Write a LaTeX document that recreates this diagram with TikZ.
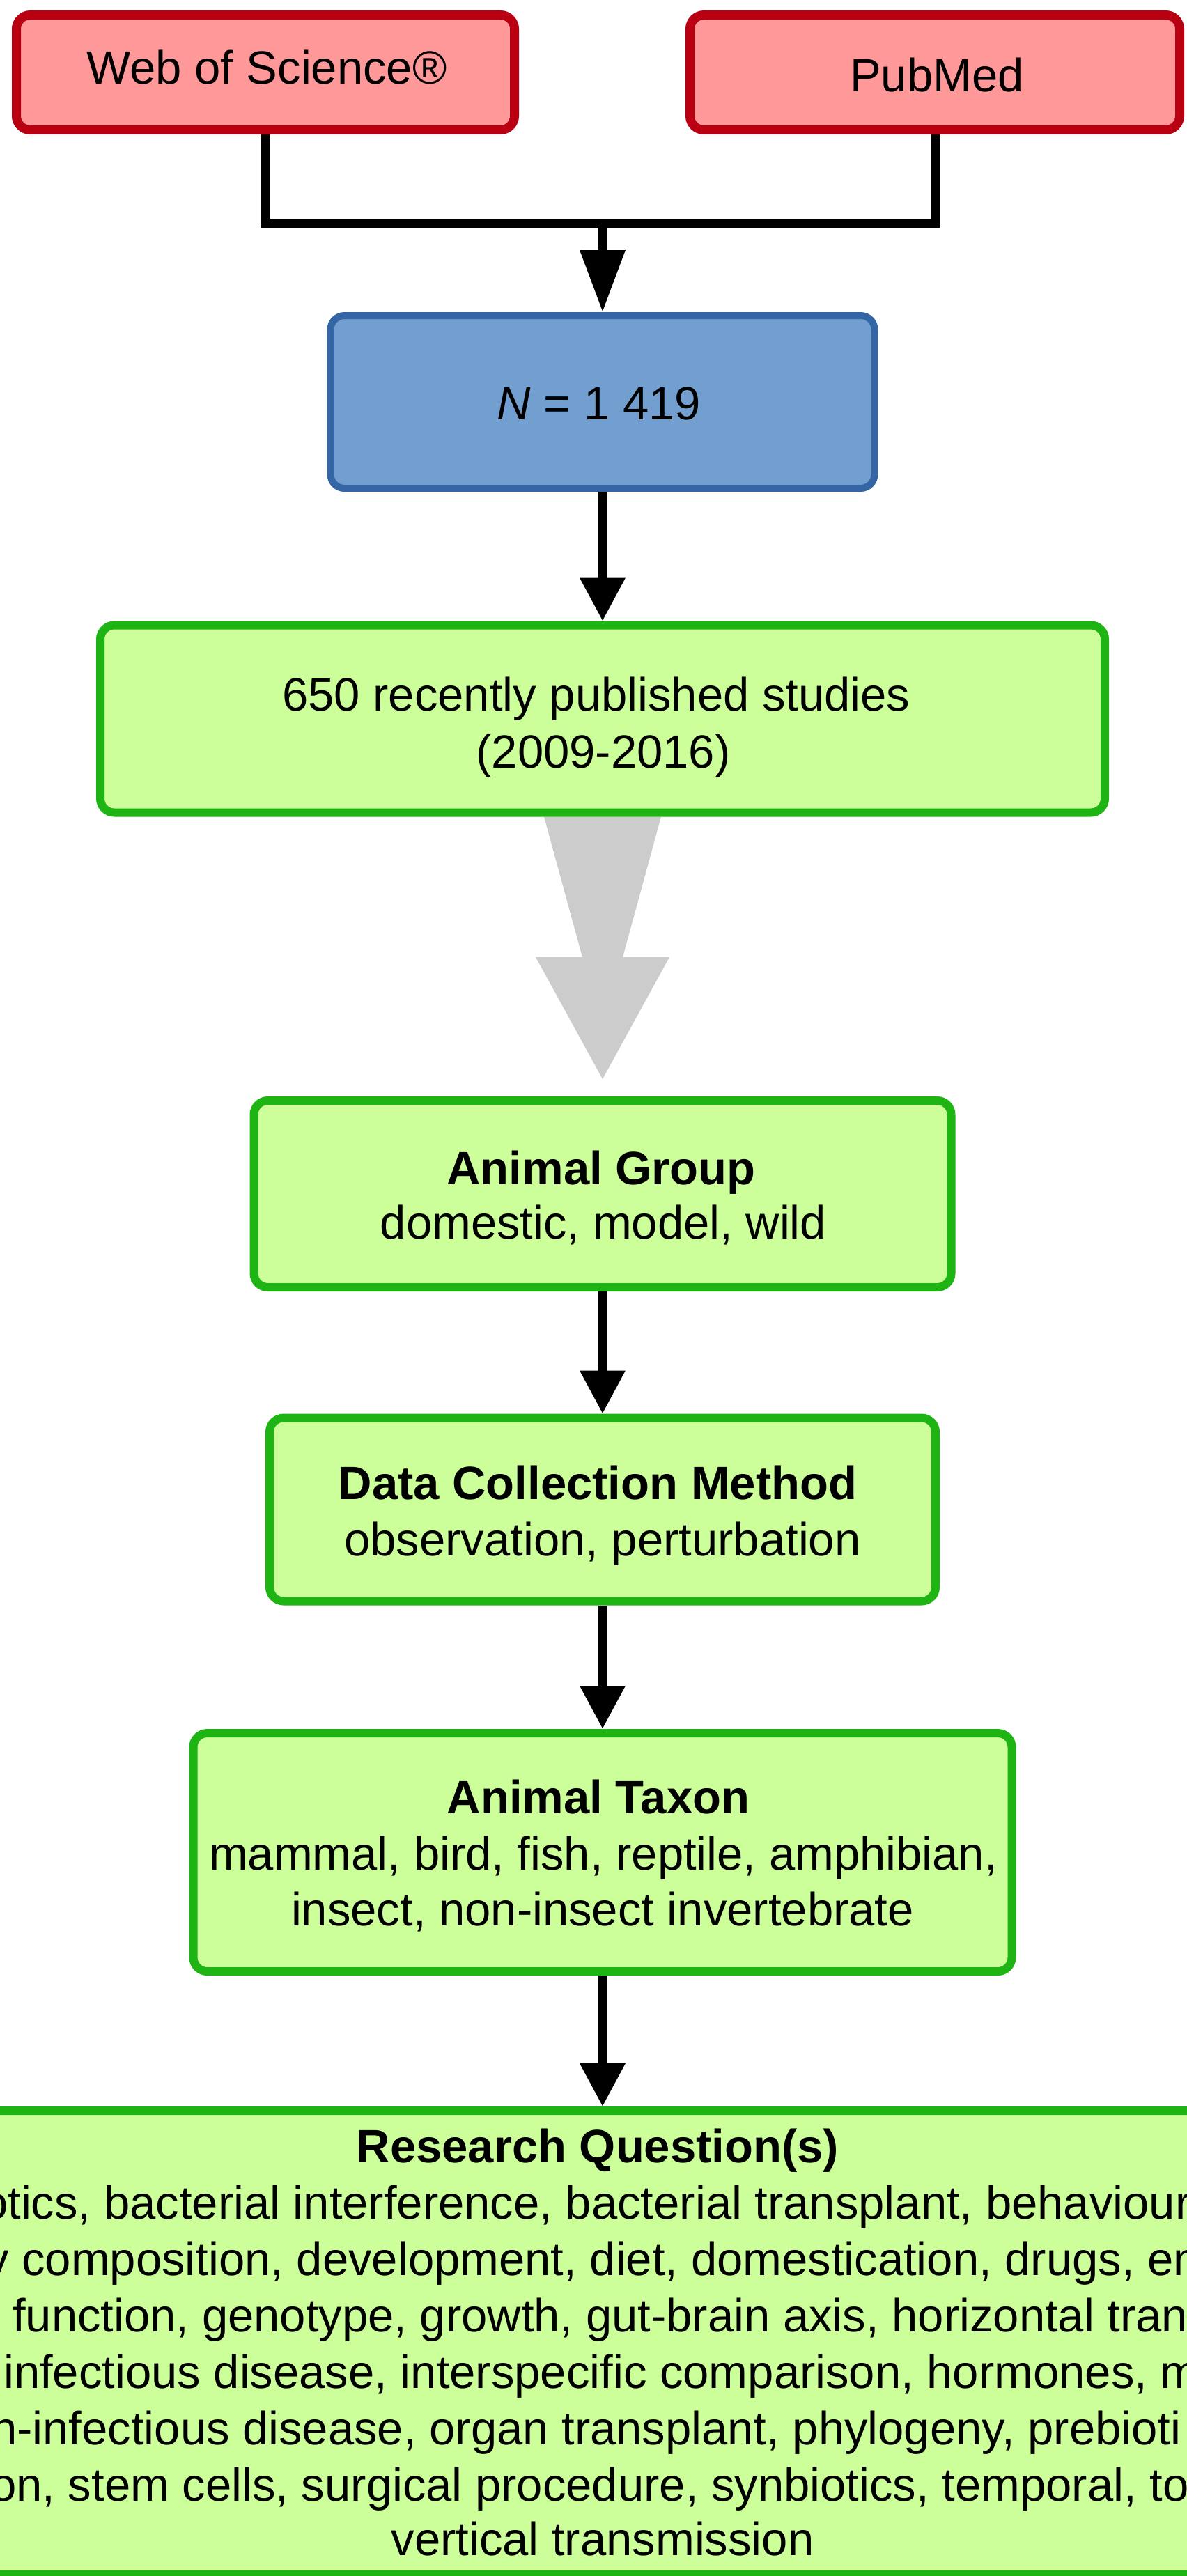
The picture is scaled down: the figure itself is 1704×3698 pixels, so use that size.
\documentclass[tikz,border=0pt]{standalone}
\usepackage{fontspec}
\setmainfont{Liberation Sans}
\usetikzlibrary{arrows.meta,calc,backgrounds}
\definecolor{redfill}{HTML}{FF9999}
\definecolor{redline}{HTML}{B80012}
\definecolor{bluefill}{HTML}{729FCF}
\definecolor{blueline}{HTML}{3465A4}
\definecolor{greenfill}{HTML}{CCFF99}
\definecolor{greenline}{RGB}{30,180,20}
\definecolor{arrowgray}{HTML}{CCCCCC}
\begin{document}
\begin{tikzpicture}[x=1pt,y=-1pt,
  box/.style={rectangle, rounded corners=20pt, inner sep=0pt},
  redbox/.style={box, draw=redline, fill=redfill, line width=13pt},
  bluebox/.style={box, draw=blueline, fill=bluefill, line width=10pt},
  greenbox/.style={box, draw=greenline, fill=greenfill, line width=12pt},
  txt/.style={anchor=base, inner sep=0pt, font=\fontsize{67}{81}\selectfont},
  ltxt/.style={txt, anchor=base west},
  conn/.style={line width=13pt, draw=black},
  arr/.style={conn, -{Triangle[width=62pt,length=62pt]}},
  arrlong/.style={conn, -{Triangle[width=62pt,length=89pt]}}]
\useasboundingbox (0,0) rectangle (1704,3698);
\clip (0,0) rectangle (1704,3698);

% boxes
\node[redbox, minimum width=715pt, minimum height=165pt] (wos) at (381,104) {};
\node[redbox, minimum width=703pt, minimum height=165pt] (pub) at (1342,104) {};
\node[bluebox, minimum width=781pt, minimum height=248pt] (blue) at (865,577) {};
\node[greenbox, minimum width=1442pt, minimum height=269pt] (g1) at (865,1032) {};
\node[greenbox, minimum width=1001pt, minimum height=268pt] (ag) at (865,1714) {};
\node[greenbox, minimum width=956pt, minimum height=263pt] (dc) at (865,2167) {};
\node[greenbox, minimum width=1175pt, minimum height=342pt] (tax) at (865,2659) {};
\node[greenbox, minimum width=1900pt, minimum height=666pt] (rq) at (865,3363) {};

% connectors
\coordinate (join) at (865,320);
\draw[conn] (wos.south) |- (join) -| (pub.south);
\draw[arrlong] (join) -- (blue.north);
\draw[arr] (blue.south) -- (g1.north);
\draw[arr] (ag.south) -- (dc.north);
\draw[arr] (dc.south) -- (tax.north);
\draw[arr] (tax.south) -- (rq.north);

% big gray arrow
\coordinate (tip) at ($(ag.north)+(0,-25)$);
\begin{scope}[on background layer]
\fill[arrowgray] ($(g1.south)+(-84,0)$) -- ($(g1.south)+(84,0)$)
  -- ($(tip)+(29,-175)$) -- ($(tip)+(96,-175)$) -- (tip)
  -- ($(tip)+(-96,-175)$) -- ($(tip)+(-29,-175)$) -- cycle;
\end{scope}

% texts
\node[txt] (twos) at (383,121) {Web of Science®};
\node[txt] (tpub) at (1345,132) {PubMed};
\node[txt] (tn) at (860,602) {\textit{N} = 1 419};
\node[txt] (t1a) at (856,1020) {650 recently published studies};
\node[txt] (t1b) at (866,1102) {(2009-2016)};
\node[txt] (tag1) at (863,1700) {\bfseries Animal Group};
\node[txt] (tag2) at (866,1778) {domestic, model, wild};
\node[txt] (tdc1) at (858,2152) {\bfseries Data Collection Method};
\node[txt] (tdc2) at (865,2233) {observation, perturbation};
\node[txt] (ttx1) at (859,2603) {\bfseries Animal Taxon};
\node[txt] (ttx2) at (866,2684) {mammal, bird, fish, reptile, amphibian,};
\node[txt] (ttx3) at (865,2764) {insect, non-insect invertebrate};
\node[txt] (trq0) at (858,3104) {\bfseries Research Question(s)};
\node[ltxt] (trq1) at (-26,3185) {otics, bacterial interference, bacterial transplant, behaviour};
\node[ltxt] (trq2) at (-21,3266) {y composition, development, diet, domestication, drugs, en};
\node[ltxt] (trq3) at (18,3347) {function, genotype, growth, gut-brain axis, horizontal tran};
\node[ltxt] (trq4) at (5,3428) {infectious disease, interspecific comparison, hormones, m};
\node[ltxt] (trq5) at (-13,3509) {n-infectious disease, organ transplant, phylogeny, prebioti};
\node[ltxt] (trq6) at (-14,3590) {on, stem cells, surgical procedure, synbiotics, temporal, to};
\node[txt] (trq7) at (865,3668) {vertical transmission};
\end{tikzpicture}
\end{document}
